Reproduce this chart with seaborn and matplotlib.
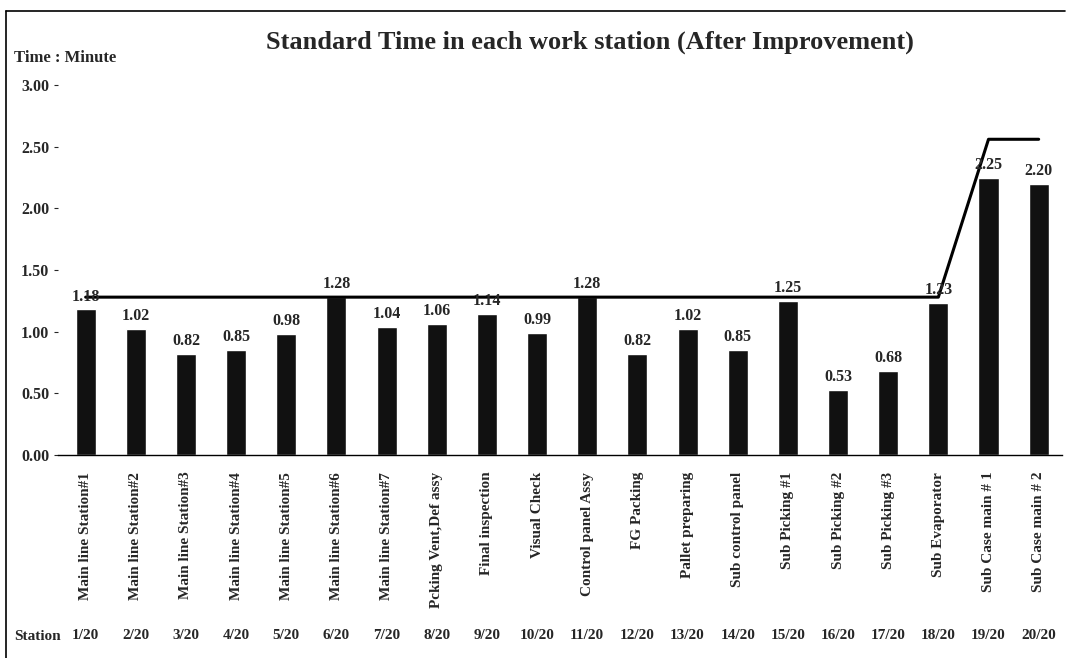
import pandas as pd
import seaborn as sns
import matplotlib.pyplot as plt
from matplotlib.lines import Line2D

# station names and standard times (minutes)
stations = ['Main line Station#1', 'Main line Station#2', 'Main line Station#3',
            'Main line Station#4', 'Main line Station#5', 'Main line Station#6',
            'Main line Station#7', 'Pcking Vent,Def assy', 'Final inspection',
            'Visual Check', 'Control panel Assy', 'FG Packing', 'Pallet preparing',
            'Sub control panel', 'Sub Picking #1', 'Sub Picking #2', 'Sub Picking #3',
            'Sub Evaporator', 'Sub Case main # 1', 'Sub Case main # 2']
std_time = [1.18, 1.02, 0.82, 0.85, 0.98, 1.28, 1.04, 1.06, 1.14, 0.99,
            1.28, 0.82, 1.02, 0.85, 1.25, 0.53, 0.68, 1.23, 2.25, 2.20]
takt = [1.28] * 18 + [2.56, 2.56]
station_no = [f'{i}/20' for i in range(1, 21)]
yticks = [0.0, 0.5, 1.0, 1.5, 2.0, 2.5, 3.0]

sns.set_style("white")
plt.rcParams['font.family'] = ['Liberation Serif', 'DejaVu Serif']

df = pd.DataFrame({'Station': stations, 'Time': std_time})

fig = plt.figure(figsize=(10.66, 6.58), dpi=100)
ax = fig.add_axes([0.054, 0.3085, 0.942, 0.5623])

sns.barplot(data=df, x='Station', y='Time', color='#111111', width=0.4,
            saturation=1, ax=ax)
ax.plot(range(len(takt)), takt, color='black', lw=2.2, zorder=3)

for i, v in enumerate(std_time):
    ax.text(i, v + 0.04, f'{v:.2f}', ha='center', va='bottom',
            fontsize=11.5, fontweight='bold')

ax.set_xlim(-0.56, 19.46)
ax.set_ylim(0, 3.0)
ax.set_yticks(yticks)
ax.set_yticklabels([f'{t:.2f}' for t in yticks], fontsize=11.5, fontweight='bold')
ax.set_xticks(range(len(stations)))
ax.set_xticklabels(stations, rotation=90, fontsize=11, fontweight='bold', va='top')
ax.tick_params(axis='x', length=0, pad=12)
ax.tick_params(axis='y', left=True, length=3, width=0.8, pad=3, direction='out')
ax.set_xlabel('')
ax.set_ylabel('')
for s in ['top', 'right', 'left']:
    ax.spines[s].set_visible(False)
ax.spines['bottom'].set_color('black')
ax.spines['bottom'].set_linewidth(1.0)

fig.text(0.553, 0.936, 'Standard Time in each work station (After Improvement)',
         fontsize=19, fontweight='bold', ha='center', va='center')
fig.text(0.013, 0.912, 'Time : Minute', fontsize=12, fontweight='bold',
         ha='left', va='center')

# station number row
fig.text(0.013, 1 - 636 / 658, 'Station', fontsize=11, fontweight='bold',
         ha='left', va='center')
trans = ax.get_xaxis_transform()
for i, s in enumerate(station_no):
    ax.text(i, -0.489, s, transform=trans, ha='center', va='center',
            fontsize=11, fontweight='bold', clip_on=False)

# frame on top and left only, as in the scan
fig.lines.append(Line2D([0.006, 0.006], [0.0, 0.983], transform=fig.transFigure,
                        color='black', lw=1.2))
fig.lines.append(Line2D([0.006, 0.999], [0.983, 0.983], transform=fig.transFigure,
                        color='black', lw=1.2))

fig.savefig('out.png', dpi=100)
